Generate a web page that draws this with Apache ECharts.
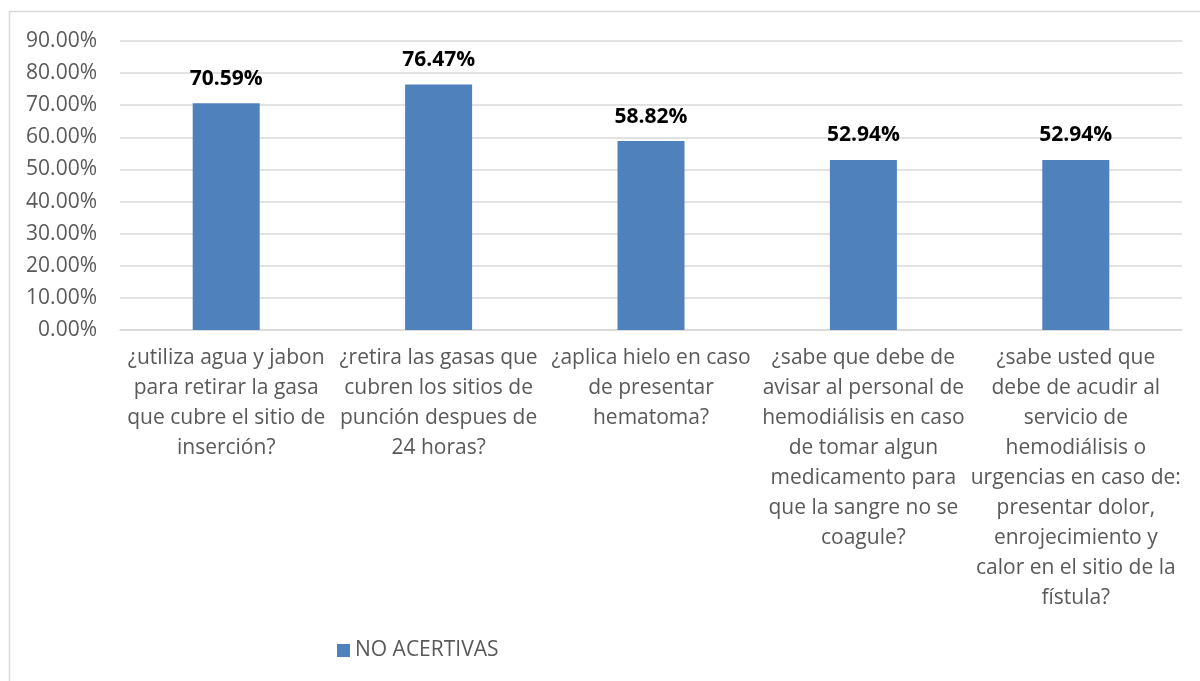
<!DOCTYPE html>
<html>
<head>
<meta charset="utf-8">
<script src="https://cdn.jsdelivr.net/npm/echarts@6/dist/echarts.min.js"></script>
<style>
  html, body { margin: 0; padding: 0; background: #fff; }
  #chart { width: 1200px; height: 681px; }
</style>
</head>
<body>
<div id="chart"></div>
<script>
// preguntas (eje x)
var categories = [
  "¿utiliza agua y jabon\npara retirar la gasa\nque cubre el sitio de\ninserción?",
  "¿retira las gasas que\ncubren los sitios de\npunción despues de\n24 horas?",
  "¿aplica hielo en caso\nde presentar\nhematoma?",
  "¿sabe que debe de\navisar al personal de\nhemodiálisis en caso\nde tomar algun\nmedicamento para\nque la sangre no se\ncoagule?",
  "¿sabe usted que\ndebe de acudir al\nservicio de\nhemodiálisis o\nurgencias en caso de:\npresentar dolor,\nenrojecimiento y\ncalor en el sitio de la\nfístula?"
];
var noAcertivas = [70.59, 76.47, 58.82, 52.94, 52.94];
var seriesName = "NO ACERTIVAS";

var font = "Open Sans, Noto Sans, sans-serif";
var myChart = echarts.init(document.getElementById("chart"));
var option = {
  animation: false,
  textStyle: { fontFamily: font },
  graphic: [
    {
      type: "rect",
      shape: { x: 9.5, y: 11.5, width: 1200, height: 700 },
      style: { fill: "none", stroke: "#d9d9d9", lineWidth: 1.5 },
      silent: true
    }
  ],
  grid: { left: 120, right: 18, top: 41, height: 289 },
  legend: {
    data: [seriesName],
    left: 332,
    top: 635,
    itemWidth: 13,
    itemHeight: 13,
    itemGap: 6,
    icon: "rect",
    textStyle: { fontSize: 21, color: "#595959", fontFamily: font }
  },
  xAxis: {
    type: "category",
    data: categories,
    axisLine: { lineStyle: { color: "#d9d9d9", width: 1.5 } },
    axisTick: { show: false },
    axisLabel: {
      interval: 0,
      margin: 13,
      fontSize: 21,
      lineHeight: 30,
      color: "#595959",
      fontFamily: font
    }
  },
  yAxis: {
    type: "value",
    min: 0,
    max: 90,
    interval: 10,
    axisLine: { show: false },
    axisTick: { show: false },
    splitLine: { lineStyle: { color: "#d9d9d9", width: 1.5 } },
    axisLabel: {
      margin: 23,
      fontSize: 21,
      color: "#595959",
      fontFamily: font,
      formatter: function (v) { return v.toFixed(2) + "%"; }
    }
  },
  series: [
    {
      name: seriesName,
      type: "bar",
      data: noAcertivas,
      barWidth: 67,
      itemStyle: { color: "#4f81bd" },
      label: {
        show: true,
        position: "top",
        distance: 14,
        fontSize: 21,
        fontWeight: "bold",
        color: "#000",
        fontFamily: font,
        formatter: function (p) { return p.value.toFixed(2) + "%"; }
      }
    }
  ]
};
myChart.setOption(option);
</script>
</body>
</html>
